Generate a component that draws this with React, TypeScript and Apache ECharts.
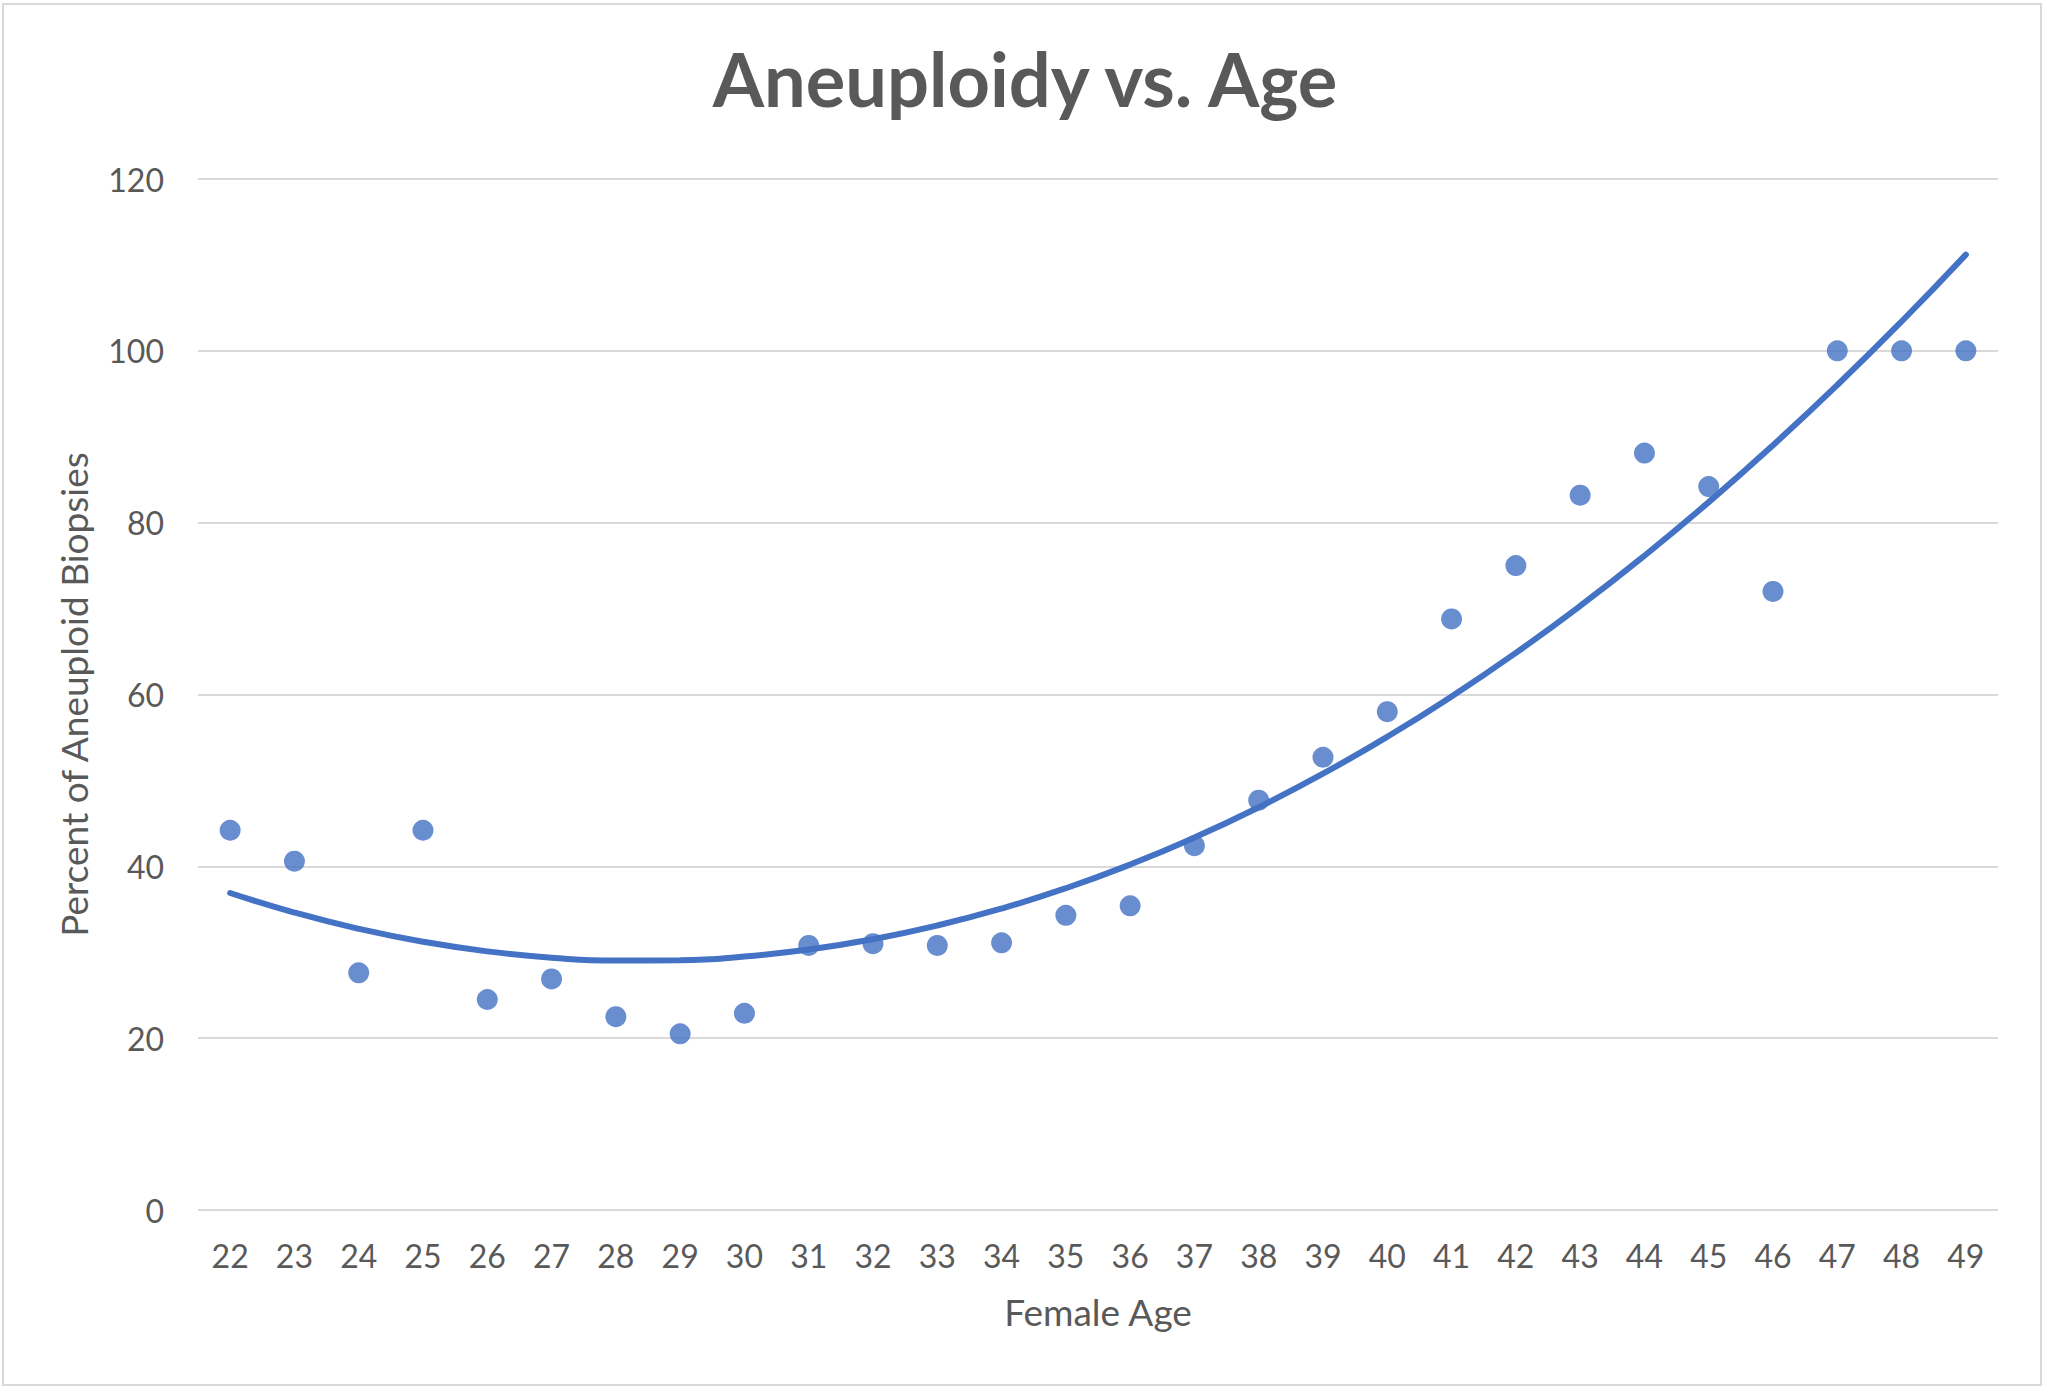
import React, { useEffect, useRef } from "react";
import * as echarts from "echarts";

const ages: string[] = ["22","23","24","25","26","27","28","29","30","31","32","33","34","35","36","37","38","39","40","41","42","43","44","45","46","47","48","49"];
const aneuploidyPct: number[] = [44.2, 40.6, 27.6, 44.2, 24.5, 26.9, 22.5, 20.5, 22.9, 30.8, 31.0, 30.8, 31.1, 34.3, 35.4, 42.4, 47.7, 52.7, 58.0, 68.8, 75.0, 83.2, 88.1, 84.2, 72.0, 100, 100, 100];
const yTicks = { min: 0, max: 120, interval: 20 };

// Excel-style order-2 polynomial trendline: least-squares fit of the data above
function quadFit(xs: number[], ys: number[]): number[] {
  const n = xs.length;
  let s0 = n, s1 = 0, s2 = 0, s3 = 0, s4 = 0, t0 = 0, t1 = 0, t2 = 0;
  for (let i = 0; i < n; i++) {
    const x = xs[i], y = ys[i];
    s1 += x; s2 += x * x; s3 += x * x * x; s4 += x * x * x * x;
    t0 += y; t1 += x * y; t2 += x * x * y;
  }
  const M = [
    [s0, s1, s2, t0],
    [s1, s2, s3, t1],
    [s2, s3, s4, t2],
  ];
  for (let c = 0; c < 3; c++) {
    let p = c;
    for (let r = c + 1; r < 3; r++) if (Math.abs(M[r][c]) > Math.abs(M[p][c])) p = r;
    [M[c], M[p]] = [M[p], M[c]];
    for (let r = 0; r < 3; r++) {
      if (r === c) continue;
      const f = M[r][c] / M[c][c];
      for (let k = c; k < 4; k++) M[r][k] -= f * M[c][k];
    }
  }
  return [M[0][3] / M[0][0], M[1][3] / M[1][1], M[2][3] / M[2][2]];
}

export default function App() {
  const ref = useRef<HTMLDivElement>(null);
  useEffect(() => {
    if (!ref.current) return;
    const chart = echarts.init(ref.current, null, { renderer: "svg" });
    const xs = ages.map(Number);
    const [a0, a1, a2] = quadFit(xs, aneuploidyPct);
    const trend = xs.map((x) => a0 + a1 * x + a2 * x * x);
    const textColor = "#595959";
    const font = "Lato";
    chart.setOption({
      animation: false,
      backgroundColor: "#ffffff",
      title: {
        text: "Aneuploidy vs. Age",
        left: 1020,
        textAlign: "center",
        top: 36,
        textStyle: { fontFamily: font, fontWeight: "bold", fontSize: 74, color: textColor },
      },
      grid: { left: 198, right: 50, top: 179, bottom: 182, containLabel: false },
      xAxis: {
        type: "category",
        data: ages,
        boundaryGap: true,
        name: "Female Age",
        nameLocation: "middle",
        nameGap: 83,
        nameTextStyle: { fontFamily: font, fontSize: 37, color: textColor },
        axisLine: { show: false },
        axisTick: { show: false },
        axisLabel: { fontFamily: font, fontSize: 32, color: textColor, margin: 29, interval: 0 },
        splitLine: { show: false },
      },
      yAxis: {
        type: "value",
        min: yTicks.min,
        max: yTicks.max,
        interval: yTicks.interval,
        name: "Percent of Aneuploid Biopsies",
        nameLocation: "middle",
        nameGap: 106,
        nameTextStyle: { fontFamily: font, fontSize: 37, color: textColor },
        axisLine: { show: false },
        axisTick: { show: false },
        axisLabel: { fontFamily: font, fontSize: 32, color: textColor, margin: 34 },
        splitLine: { show: true, lineStyle: { color: "#d9d9d9", width: 2 } },
      },
      series: [
        {
          type: "line",
          name: "Trend",
          data: trend,
          smooth: true,
          showSymbol: false,
          symbol: "none",
          lineStyle: { color: "#4472C4", width: 6, cap: "round" },
          z: 2,
        },
        {
          type: "scatter",
          name: "Aneuploidy",
          data: aneuploidyPct,
          symbol: "circle",
          symbolSize: 21,
          itemStyle: { color: "#4472C4" },
          z: 3,
        },
      ],
      graphic: [
        {
          type: "rect",
          shape: { x: 3, y: 4, width: 2038, height: 1381 },
          style: { fill: "none", stroke: "#d9d9d9", lineWidth: 2 },
          silent: true,
        },
      ],
    });
    return () => chart.dispose();
  }, []);
  return (
    <div
      ref={ref}
      style={{ position: "fixed", left: 0, top: 0, width: 2048, height: 1392, background: "#fff" }}
    />
  );
}
